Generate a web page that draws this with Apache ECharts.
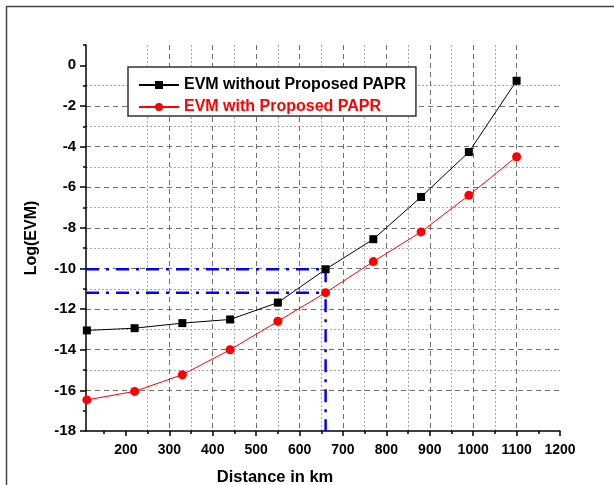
<!DOCTYPE html>
<html>
<head>
<meta charset="utf-8">
<script src="https://cdn.jsdelivr.net/npm/echarts@6/dist/echarts.min.js"></script>
<style>
  html, body { margin: 0; padding: 0; background: #fff; }
  #chart { width: 614px; height: 485px; }
</style>
</head>
<body>
<div id="chart"></div>
<script>
// Distance (km) and log EVM for both transmitter configurations
const distances = [110, 220, 330, 440, 550, 660, 770, 880, 990, 1100];
const evmWithout = [-13.05, -12.94, -12.69, -12.51, -11.68, -10.04, -8.56, -6.48, -4.27, -0.76];
const evmWith = [-16.47, -16.05, -15.23, -14.0, -12.6, -11.19, -9.66, -8.2, -6.4, -4.5];

// Axis ranges and tick positions
const xMin = 108, xMax = 1200;
const yMin = -18, yMax = 1;
const xMajorTicks = [200, 300, 400, 500, 600, 700, 800, 900, 1000, 1100, 1200];
const xMinorTicks = [150, 250, 350, 450, 550, 650, 750, 850, 950, 1050, 1150];
const yMajorTicks = [-18, -16, -14, -12, -10, -8, -6, -4, -2, 0];
const yMinorTicks = [-17, -15, -13, -11, -9, -7, -5, -3, -1, 1];

// Reference distance marked with the blue guide lines
const markIndex = 5;

const seriesNames = ['EVM without Proposed PAPR', 'EVM with Proposed PAPR'];

const pairs = (xs, ys) => xs.map((x, i) => [x, ys[i]]);

const font = 'Arial, "Liberation Sans", sans-serif';
const guideStyle = { color: '#0000ff', width: 2.5, type: [13, 7, 3, 7] };
const majorGrid = { color: '#6e6e6e', width: 1, type: [5, 4] };
const minorGrid = { color: '#a8a8a8', width: 1, type: [2, 2] };
const tickLine = { color: '#000', width: 1.5 };

const chart = echarts.init(document.getElementById('chart'), null, { renderer: 'canvas' });

const guideX = distances[markIndex];
const guideSeries = [
  [[xMin, evmWithout[markIndex]], [guideX, evmWithout[markIndex]]],
  [[xMin, evmWith[markIndex]], [guideX, evmWith[markIndex]]],
  [[guideX, evmWithout[markIndex]], [guideX, yMin]]
].map(d => ({
  type: 'line', data: d, symbol: 'none', silent: true, z: 1,
  lineStyle: guideStyle, animation: false
}));

function axisPair(dir, min, max, majors, minors, labelOpts, majorLen) {
  return [
    {
      type: 'value', min, max, position: dir,
      axisLine: { show: true, onZero: false, lineStyle: { color: '#000', width: 1.5 } },
      axisTick: { show: true, inside: false, length: majorLen, customValues: majors, lineStyle: tickLine },
      axisLabel: Object.assign({ customValues: majors, color: '#000', fontFamily: font,
        fontWeight: 'bold', formatter: v => String(v) }, labelOpts),
      splitLine: { show: true, showMinLine: false, showMaxLine: false, lineStyle: majorGrid }
    },
    {
      type: 'value', min, max, position: dir,
      axisLine: { show: false, onZero: false },
      axisTick: { show: true, inside: false, length: 3, customValues: minors, lineStyle: tickLine },
      axisLabel: { show: false },
      splitLine: { show: true, showMinLine: false, showMaxLine: false, lineStyle: minorGrid }
    }
  ];
}

chart.setOption({
  animation: false,
  backgroundColor: '#fff',
  grid: { left: 86, right: 54, top: 45, bottom: 54 },
  xAxis: axisPair('bottom', xMin, xMax, xMajorTicks, xMinorTicks, { margin: 12, fontSize: 14 }, 5),
  yAxis: axisPair('left', yMin, yMax, yMajorTicks, yMinorTicks, { margin: 10, fontSize: 15 }, 6),
  legend: {
    orient: 'vertical', left: 128, top: 67,
    backgroundColor: '#fff', borderColor: '#333', borderWidth: 1.5,
    padding: [10, 10, 1, 10], itemGap: 6, itemWidth: 40, itemHeight: 10,
    textStyle: { fontFamily: font, fontWeight: 'bold', fontSize: 16 },
    data: [
      { name: seriesNames[0], textStyle: { color: '#000' } },
      { name: seriesNames[1], textStyle: { color: '#ff0000' } }
    ]
  },
  graphic: [
    { type: 'rect', shape: { x: 6.5, y: 6.5, width: 700, height: 600 },
      style: { fill: 'none', stroke: '#444', lineWidth: 1.5 }, silent: true },
    { type: 'text', x: 32, y: 238, rotation: Math.PI / 2,
      style: { text: 'Log(EVM)', fill: '#000', font: 'bold 16px ' + font,
        textAlign: 'center', textVerticalAlign: 'middle' } },
    { type: 'text', x: 275, y: 477,
      style: { text: 'Distance in km', fill: '#000', font: 'bold 16.5px ' + font,
        textAlign: 'center', textVerticalAlign: 'middle' } }
  ],
  series: [
    ...guideSeries,
    {
      name: seriesNames[0], type: 'line', data: pairs(distances, evmWithout),
      symbol: 'rect', symbolSize: 8, z: 3,
      itemStyle: { color: '#000' }, lineStyle: { color: '#000', width: 1 }
    },
    {
      name: seriesNames[1], type: 'line', data: pairs(distances, evmWith),
      symbol: 'circle', symbolSize: 9, z: 3,
      itemStyle: { color: '#ff0000' }, lineStyle: { color: '#ff0000', width: 1 }
    }
  ]
});
</script>
</body>
</html>
